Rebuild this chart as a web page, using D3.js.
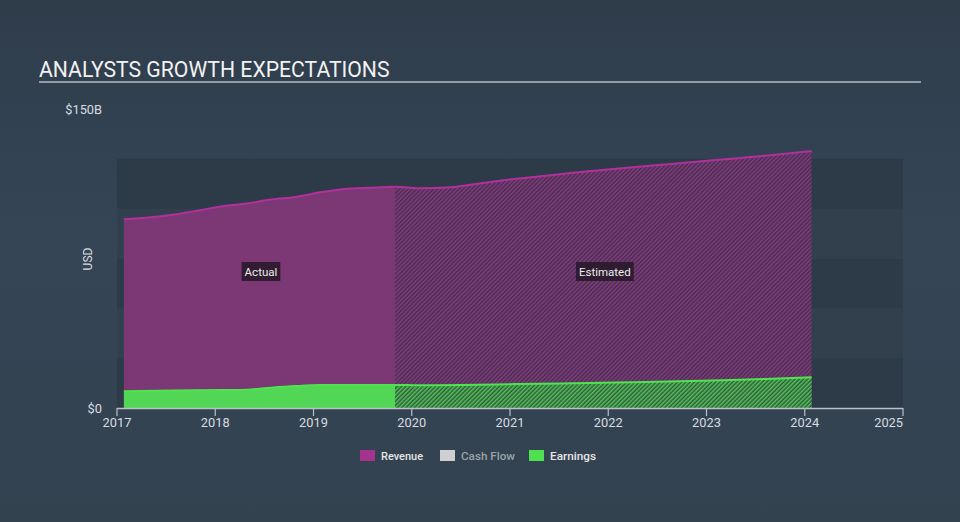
<!DOCTYPE html>
<html>
<head>
<meta charset="utf-8">
<script src="https://cdn.jsdelivr.net/npm/d3@7"></script>
<style>
  html, body { margin: 0; padding: 0; background: #33414f; }
  svg { display: block; font-family: Roboto, "Noto Sans", sans-serif; }
</style>
</head>
<body>
<svg id="chart" width="960" height="522"></svg>
<script>
// ---- data ----
const xTicks = [2017, 2018, 2019, 2020, 2021, 2022, 2023, 2024, 2025];
const yTickLabels = ["$0", "$150B"];
const yTickValues = [0, 150];
const bandEdges = [0, 25, 50, 75, 100, 125];

const revenueActualYears  = [2017.07, 2017.32, 2017.57, 2017.82, 2018.07, 2018.32, 2018.57, 2018.82, 2019.07, 2019.32, 2019.57, 2019.83];
const revenueActual       = [94.7, 95.6, 97.0, 99.0, 101.2, 102.6, 104.6, 105.9, 108.2, 109.9, 110.5, 111.0];
const revenueEstYears     = [2019.83, 2020.07, 2020.40, 2020.74, 2021.07, 2021.43, 2021.77, 2022.11, 2022.45, 2022.78, 2023.12, 2023.47, 2023.78, 2024.07];
const revenueEst          = [111.0, 110.2, 110.7, 113.0, 115.0, 116.9, 118.6, 120.2, 121.7, 123.0, 124.5, 126.0, 127.4, 128.9];

const earningsActualYears = [2017.07, 2017.57, 2018.07, 2018.32, 2018.57, 2018.82, 2019.07, 2019.57, 2019.83];
const earningsActual      = [8.4, 8.8, 9.0, 9.2, 10.2, 11.0, 11.5, 11.6, 11.6];
const earningsEstYears    = [2019.83, 2020.07, 2020.5, 2021.07, 2022.07, 2023.07, 2023.6, 2024.07];
const earningsEst         = [11.6, 11.4, 11.5, 12.0, 12.8, 13.8, 14.6, 15.4];

const legendItems = ["Revenue", "Cash Flow", "Earnings"];
const legendColors = ["#a4338f", "#cfcfcf", "#4fe04f"];
const legendTextColors = ["#e6e6e6", "#9aa2ab", "#e6e6e6"];

// ---- drawing ----
const svg = d3.select("#chart");
const defs = svg.append("defs");

const bg = defs.append("linearGradient").attr("id", "bg").attr("x1", 0).attr("y1", 0).attr("x2", 0).attr("y2", 1);
bg.append("stop").attr("offset", "0%").attr("stop-color", "#2f3d4b");
bg.append("stop").attr("offset", "45%").attr("stop-color", "#354556");
bg.append("stop").attr("offset", "100%").attr("stop-color", "#33424f");

function hatch(id, bgColor, lineColor) {
  const p = defs.append("pattern").attr("id", id)
    .attr("patternUnits", "userSpaceOnUse")
    .attr("width", 3).attr("height", 3)
    .attr("patternTransform", "rotate(45)");
  p.append("rect").attr("width", 3).attr("height", 3).attr("fill", bgColor);
  p.append("line").attr("x1", 0.75).attr("y1", 0).attr("x2", 0.75).attr("y2", 3)
    .attr("stroke", lineColor).attr("stroke-width", 1.5);
}
hatch("hatchRev", "#45304d", "#853a80");
hatch("hatchEarn", "#325740", "#52c656");

svg.append("rect").attr("width", 960).attr("height", 522).attr("fill", "url(#bg)");

const x = d3.scaleLinear().domain([2017, 2025]).range([117, 903]);
const y = d3.scaleLinear().domain([0, 150]).range([408, 109]);

// bands
const bands = d3.pairs(bandEdges);
svg.append("g").selectAll("rect").data(bands).join("rect")
  .attr("x", x(2017)).attr("width", x(2025) - x(2017))
  .attr("y", d => y(d[1])).attr("height", d => y(d[0]) - y(d[1]))
  .attr("fill", (d, i) => i % 2 === 0 ? "#2d3a48" : "#32404e");

// title
svg.append("text").attr("x", 39).attr("y", 77)
  .attr("fill", "#f2f2f2").attr("font-size", 21.2).text("ANALYSTS GROWTH EXPECTATIONS");
svg.append("line").attr("x1", 39).attr("x2", 921).attr("y1", 82).attr("y2", 82)
  .attr("stroke", "#b6bcc3").attr("stroke-width", 1.5);

const zip = (xs, vs) => xs.map((t, i) => [t, vs[i]]);
const area = d3.area().x(d => x(d[0])).y0(y(0)).y1(d => y(d[1])).curve(d3.curveMonotoneX);
const line = d3.line().x(d => x(d[0])).y(d => y(d[1])).curve(d3.curveMonotoneX);

const revA = zip(revenueActualYears, revenueActual);
const revE = zip(revenueEstYears, revenueEst);
const earA = zip(earningsActualYears, earningsActual);
const earE = zip(earningsEstYears, earningsEst);

svg.append("path").datum(revA).attr("d", area).attr("fill", "#7b3874");
svg.append("path").datum(revE).attr("d", area).attr("fill", "url(#hatchRev)");
svg.append("path").datum(earA).attr("d", area).attr("fill", "#51d655");
svg.append("path").datum(earE).attr("d", area).attr("fill", "url(#hatchEarn)");

svg.append("path").datum(revA.concat(revE.slice(1))).attr("d", line)
  .attr("fill", "none").attr("stroke", "#b3309c").attr("stroke-width", 2);
svg.append("path").datum(earA.concat(earE.slice(1))).attr("d", line)
  .attr("fill", "none").attr("stroke", "#4ee44e").attr("stroke-width", 2);

// x axis
const xAxis = svg.append("g").attr("transform", `translate(0,${y(0)})`);
xAxis.append("line").attr("x1", x(2017)).attr("x2", x(2025)).attr("y1", 0.5).attr("y2", 0.5)
  .attr("stroke", "#b9c0c8").attr("stroke-width", 1.5);
const tk = xAxis.selectAll("g.tick").data(xTicks).join("g").attr("class", "tick")
  .attr("transform", d => `translate(${x(d)},0)`);
tk.append("line").attr("y1", 0).attr("y2", 8).attr("stroke", "#b9c0c8").attr("stroke-width", 1.2);
tk.append("text").attr("y", 19)
  .attr("text-anchor", (d, i) => i === xTicks.length - 1 ? "end" : "middle")
  .attr("fill", "#d8dce0").attr("font-size", 12.8).text(d => d);

// y labels
svg.selectAll("text.ylab").data(yTickValues).join("text").attr("class", "ylab")
  .attr("x", 102).attr("y", d => y(d) + 4.5).attr("text-anchor", "end")
  .attr("fill", "#d8dce0").attr("font-size", 12.8).text((d, i) => yTickLabels[i]);
svg.append("text").attr("transform", "translate(92,259) rotate(-90)")
  .attr("text-anchor", "middle").attr("fill", "#d8dce0").attr("font-size", 12).text("USD");

// Actual / Estimated labels
function tag(cx, cy, label) {
  const g = svg.append("g");
  const t = g.append("text").attr("x", cx).attr("y", cy + 4).attr("text-anchor", "middle")
    .attr("fill", "#ececec").attr("font-size", 11.5).text(label);
  const b = t.node().getBBox();
  g.insert("rect", "text").attr("x", b.x - 3).attr("y", cy - 9.5).attr("width", b.width + 6).attr("height", 19)
    .attr("fill", "#2a1a2c").attr("opacity", 0.92);
}
tag((x(revenueActualYears[0]) + x(revenueActualYears[revenueActualYears.length - 1])) / 2 + 1.5, 271.5, "Actual");
tag((x(revenueEstYears[0]) + x(revenueEstYears[revenueEstYears.length - 1])) / 2 + 1.5, 271.5, "Estimated");

// legend
const lg = svg.append("g");
const legendX = [360, 440, 529];
legendItems.forEach((name, i) => {
  lg.append("rect").attr("x", legendX[i]).attr("y", 450).attr("width", 15).attr("height", 11)
    .attr("fill", legendColors[i]);
  lg.append("text").attr("x", legendX[i] + 21).attr("y", 460).attr("fill", legendTextColors[i])
    .attr("font-size", 11.5).attr("font-weight", 500).attr("textLength", [42, 54, 46][i])
    .attr("lengthAdjust", "spacingAndGlyphs").text(name);
});
</script>
</body>
</html>
